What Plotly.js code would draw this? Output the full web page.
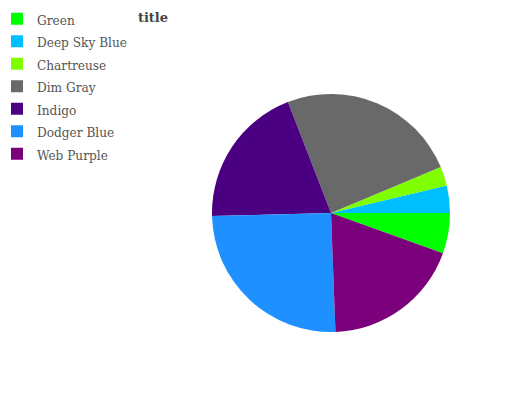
<!DOCTYPE html>
<html><head><meta charset="utf-8">
<script src="https://cdn.plot.ly/plotly-3.0.1.min.js"></script>
<style>body{margin:0;padding:0;background:#fff}#chart{width:532px;height:400px}</style>
</head><body><div id="chart"></div>
<script>
const labels = ["Green", "Deep Sky Blue", "Chartreuse", "Dim Gray", "Indigo", "Dodger Blue", "Web Purple"];
const values = [5.5, 3.7, 2.6, 24.6, 19.5, 25.2, 18.9];
const colors = ["#00ff00", "#00bfff", "#7fff00", "#696969", "#4b0082", "#1e90ff", "#7b007b"];

const W = 532, H = 400;
// legend entries: text drawn at 13.5px inside a 15px legend row (for row spacing)
const legendLabels = labels.map(l => '<span style="font-size:13.5px">' + l + '</span>');

Plotly.newPlot("chart", [{
  type: "pie",
  labels: legendLabels,
  values: values,
  marker: {colors: colors, line: {width: 0}},
  sort: false,
  direction: "counterclockwise",
  rotation: 90,
  textinfo: "none",
  hoverinfo: "label+value",
  domain: {x: [212 / W, 450 / W], y: [1 - 332 / H, 1 - 94 / H]}
}], {
  width: W, height: H,
  margin: {l: 0, r: 0, t: 0, b: 0, autoexpand: false},
  paper_bgcolor: "#fff",
  title: {text: "<b>title</b>", x: 153 / W, xanchor: "center", y: 1 - 17 / H, yanchor: "middle",
          font: {family: "DejaVu Serif", size: 13, color: "#444"}},
  showlegend: true,
  legend: {x: -3 / W, xanchor: "left", y: 1 - 2.5 / H, yanchor: "top",
           font: {family: "DejaVu Serif Condensed, DejaVu Serif", size: 15, color: "#555"},
           tracegroupgap: 0, itemwidth: 30}
}, {displayModeBar: false});
</script></body></html>
